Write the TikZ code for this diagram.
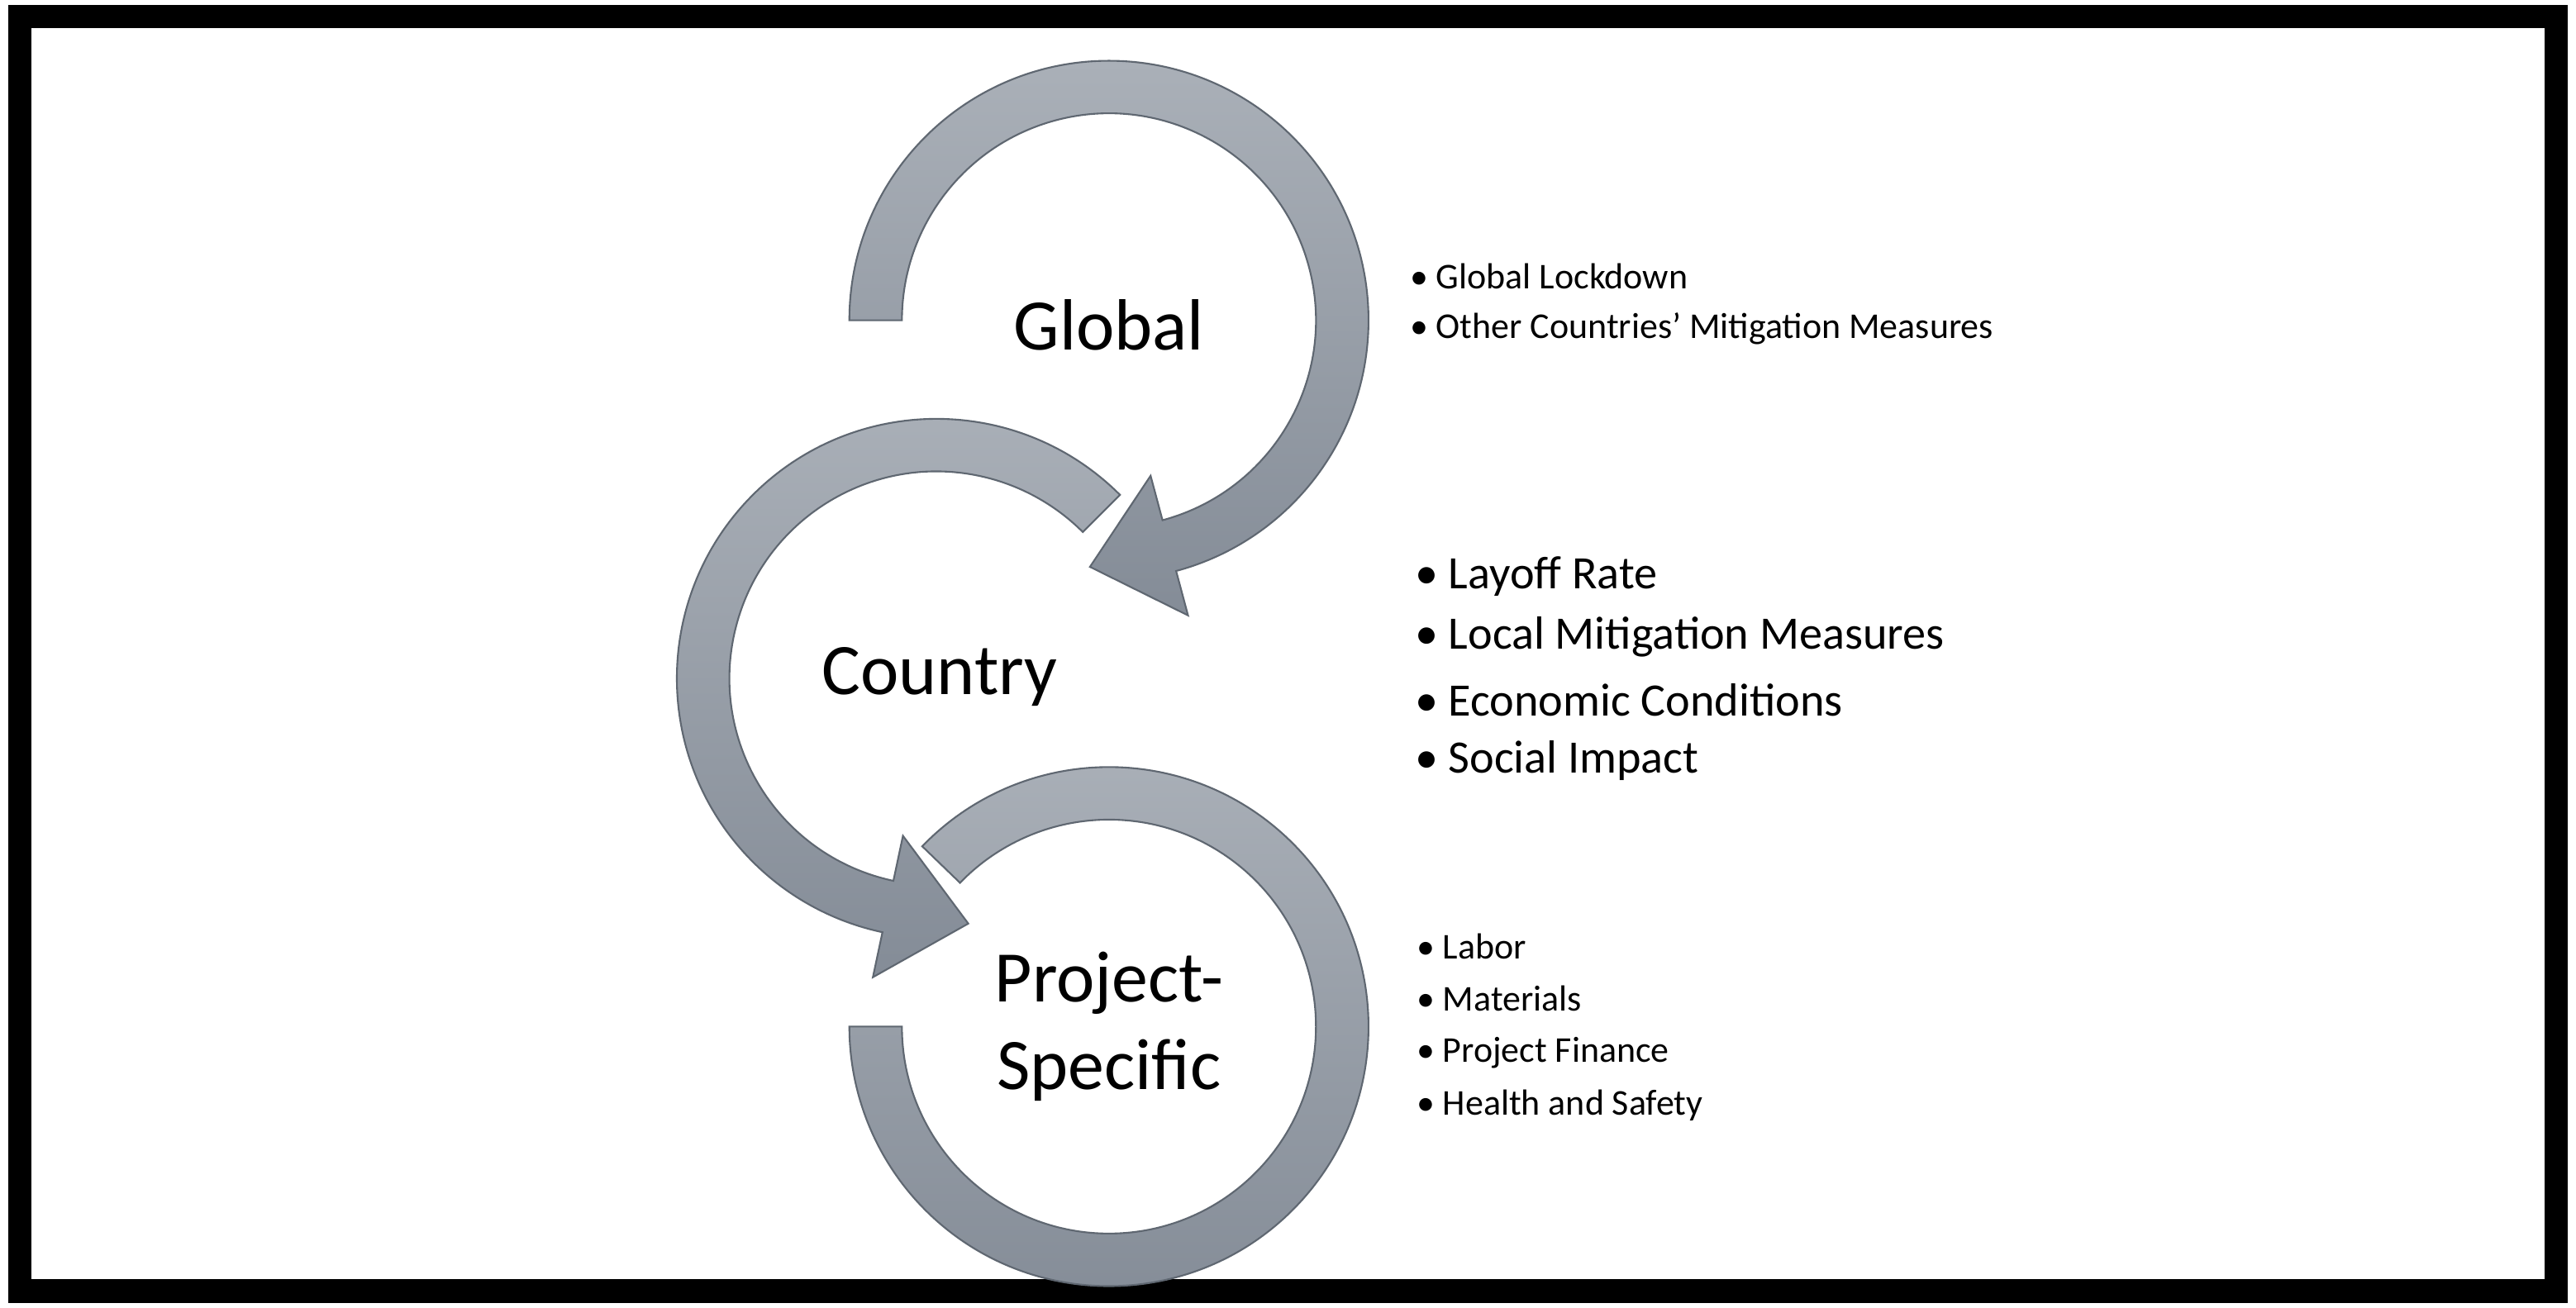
\documentclass[tikz,border=0pt]{standalone}
\usepackage{fontspec}
\setmainfont{Carlito}
\usetikzlibrary{calc}
\definecolor{gtop}{HTML}{AAB0B8}
\definecolor{gbot}{HTML}{848C97}
\definecolor{gedge}{HTML}{5F6771}
\tikzset{
  band/.style={top color=gtop, bottom color=gbot, draw=gedge, line width=0.6pt},
  big/.style={font=\fontsize{25}{30}\selectfont, align=center},
  smalllist/.style={font=\fontsize{12.5}{18}\selectfont, anchor=west},
  medlist/.style={font=\fontsize{16}{20}\selectfont, anchor=west}
}
\begin{document}
\begin{tikzpicture}[x=0.01988cm,y=0.01988cm]
\useasboundingbox (0,0) rectangle (1568,796);
\fill[white] (0,0) rectangle (1568,796);
\draw[line width=8pt] (12,10) rectangle (1556,786);
\coordinate (gc) at (675,601);
\coordinate (cc) at (570,383);
\coordinate (pc) at (675,171);
% Global arrow (clockwise)
\path[band] ($(gc)+(180:158)$) arc[start angle=180,end angle=-75,radius=158]
  -- ($(gc)+(-75:186)$) -- ($(gc)+(-75:142)+(-165:50)$) -- ($(gc)+(-75:98)$)
  -- ($(gc)+(-75:126)$) arc[start angle=-75,end angle=180,radius=126] -- cycle;
% Project arc (clockwise, no head)
\path[band] ($(pc)+(136:158)$) arc[start angle=136,end angle=-180,radius=158]
  -- ($(pc)+(180:126)$) arc[start angle=-180,end angle=136,radius=126] -- cycle;
% Country arrow (counterclockwise)
\path[band] ($(cc)+(45:158)$) arc[start angle=45,end angle=258,radius=158]
  -- ($(cc)+(258:186)$) -- ($(cc)+(258:142)+(348:50)$) -- ($(cc)+(258:98)$)
  -- ($(cc)+(258:126)$) arc[start angle=258,end angle=45,radius=126] -- cycle;
\node[big] (g) at (675,598) {Global};
\node[big] (c) at (572,384) {Country};
\node[big] (p) at (675,171) {Project-\\Specific};
\node[smalllist] (g1) at (852,628) {• Global Lockdown};
\node[smalllist] (g2) at (852,596) {• Other Countries' Mitigation Measures};
\node[medlist] (c1) at (855,445) {• Layoff Rate};
\node[medlist] (c2) at (855,408) {• Local Mitigation Measures};
\node[medlist] (c3) at (855,370) {• Economic Conditions};
\node[medlist] (c4) at (855,333) {• Social Impact};
\node[smalllist] (p1) at (856,220) {• Labor};
\node[smalllist] (p2) at (856,188) {• Materials};
\node[smalllist] (p3) at (856,155) {• Project Finance};
\node[smalllist] (p4) at (856,123) {• Health and Safety};
\end{tikzpicture}
\end{document}
